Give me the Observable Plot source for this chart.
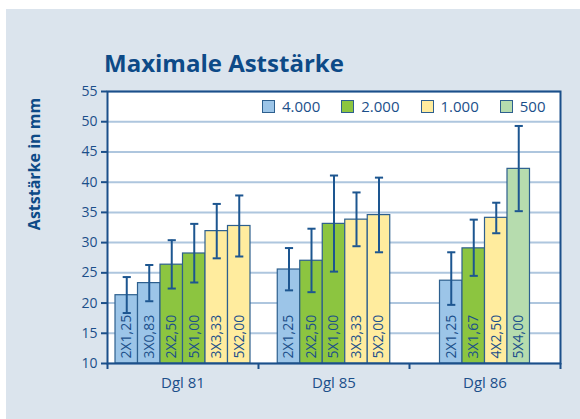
<!DOCTYPE html>
<html>
<head>
<meta charset="utf-8">
<script src="https://cdn.jsdelivr.net/npm/d3@7"></script>
<script src="https://cdn.jsdelivr.net/npm/@observablehq/plot@0.6"></script>
<style>
  html, body { margin: 0; padding: 0; background: #ffffff; }
  #wrap { position: relative; width: 580px; height: 419px; overflow: hidden; font-family: "Open Sans", sans-serif; }
  #panel { position: absolute; left: 6px; top: 9px; right: 0; bottom: 0; background: #dbe4ed; }
  #chart { position: absolute; left: 0; top: 0; }
  #title { position: absolute; left: 104px; top: 46px; font-size: 24px; font-weight: 700; color: #0d4a87; white-space: nowrap; }
  #ylabel { position: absolute; left: 34px; top: 164px; transform: translate(-50%, -50%) rotate(-90deg); font-size: 16px; font-weight: 700; color: #0d4a87; white-space: nowrap; }
  #legend { position: absolute; left: 262px; top: 96px; display: flex; align-items: center; gap: 21px; font-size: 15px; color: #1b4f8a; }
  #legend .item { display: flex; align-items: center; gap: 7px; }
  #legend .sw { width: 11px; height: 11px; border: 1px solid #2d5f8e; }
</style>
</head>
<body>
<div id="wrap">
  <div id="panel"></div>
  <div id="chart"></div>
  <div id="title">Maximale Aststärke</div>
  <div id="ylabel">Aststärke in mm</div>
  <div id="legend"></div>
</div>
<script>
// ---- data ----
const groups = ["Dgl 81", "Dgl 85", "Dgl 86"];
const barGroup = [0, 0, 0, 0, 0, 0, 1, 1, 1, 1, 1, 2, 2, 2, 2];
const barLabels = ["2X1,25", "3X0,83", "2X2,50", "5X1,00", "3X3,33", "5X2,00",
                   "2X1,25", "2X2,50", "5X1,00", "3X3,33", "5X2,00",
                   "2X1,25", "3X1,67", "4X2,50", "5X4,00"];
const barSeries = ["4.000", "4.000", "2.000", "2.000", "1.000", "1.000",
                   "4.000", "2.000", "2.000", "1.000", "1.000",
                   "4.000", "2.000", "1.000", "500"];
const values  = [21.3, 23.3, 26.35, 28.2, 31.9, 32.75, 25.55, 27.0, 33.1, 33.8, 34.55, 23.7, 29.05, 34.1, 42.2];
const errLow  = [18.35, 20.3, 22.4, 23.4, 27.4, 27.7, 22.1, 21.8, 25.2, 29.4, 28.4, 19.7, 24.5, 31.55, 35.2];
const errHigh = [24.3, 26.3, 30.4, 33.1, 36.4, 37.8, 29.1, 32.3, 41.1, 38.3, 40.75, 28.4, 33.8, 36.6, 49.3];
const series = ["4.000", "2.000", "1.000", "500"];
const seriesColors = ["#9cc5e8", "#8cc540", "#ffec9e", "#b6dcae"];
const yTicks = [10, 15, 20, 25, 30, 35, 40, 45, 50, 55];

// ---- styling constants ----
const ink = "#1b4f8a";
const barW = 0.149;   // bar width as fraction of a group slot
const capW = 0.027;   // half-width of error caps

// ---- build table ----
const rows = values.map((v, k) => {
  const g = barGroup[k];
  const members = barGroup.map((gg, j) => gg === g ? j : -1).filter(j => j >= 0);
  const i = members.indexOf(k), n = members.length;
  const c = g + 0.5 + (i - (n - 1) / 2) * barW;
  return { v, lo: errLow[k], hi: errHigh[k], label: barLabels[k], s: barSeries[k], c, x1: c - barW / 2, x2: c + barW / 2 };
});
const groupRows = groups.map((name, g) => ({ name, c: g + 0.5 }));

const chart = Plot.plot({
  width: 580,
  height: 419,
  marginLeft: 107,
  marginRight: 20,
  marginTop: 91,
  marginBottom: 56,
  style: { background: "transparent", fontFamily: "Open Sans, sans-serif", fontSize: "14px", color: ink },
  x: { domain: [0, 3], axis: null },
  y: { domain: [10, 55], axis: null },
  color: { domain: series, range: seriesColors },
  marks: [
    Plot.frame({ fill: "white", stroke: "none" }),
    Plot.gridY(yTicks, { stroke: "#aec6de", strokeWidth: 2, strokeOpacity: 1 }),
    Plot.rect(rows, { x1: "x1", x2: "x2", y1: 10, y2: "v", fill: "s", stroke: "#2d5f8e", strokeWidth: 1.2 }),
    Plot.text(rows, { x: "c", y: 10, text: "label", rotate: -90, textAnchor: "start", lineAnchor: "middle", dy: -5, fontSize: 14, fill: ink }),
    Plot.ruleX(rows, { x: "c", y1: "lo", y2: "hi", stroke: "#1d5690", strokeWidth: 2 }),
    Plot.link(rows, { x1: d => d.c - capW, x2: d => d.c + capW, y1: "hi", y2: "hi", stroke: "#1d5690", strokeWidth: 2 }),
    Plot.link(rows, { x1: d => d.c - capW, x2: d => d.c + capW, y1: "lo", y2: "lo", stroke: "#1d5690", strokeWidth: 2 }),
    Plot.frame({ stroke: ink, strokeWidth: 2 }),
    Plot.axisY(yTicks, { tickSize: 6, tickPadding: 4, color: ink, strokeWidth: 2, fontSize: 14 }),
    Plot.axisX([0, 1, 2, 3], { tickSize: 6, tickFormat: () => "", color: ink, strokeWidth: 2 }),
    Plot.text(groupRows, { x: "c", y: 10, text: "name", dy: 20, fontSize: 15, fill: ink, lineAnchor: "middle" })
  ]
});
document.getElementById("chart").appendChild(chart);

const legend = document.getElementById("legend");
series.forEach((s, i) => {
  const item = document.createElement("div");
  item.className = "item";
  const sw = document.createElement("div");
  sw.className = "sw";
  sw.style.background = seriesColors[i];
  const t = document.createElement("span");
  t.textContent = s;
  item.appendChild(sw);
  item.appendChild(t);
  legend.appendChild(item);
});
</script>
</body>
</html>
